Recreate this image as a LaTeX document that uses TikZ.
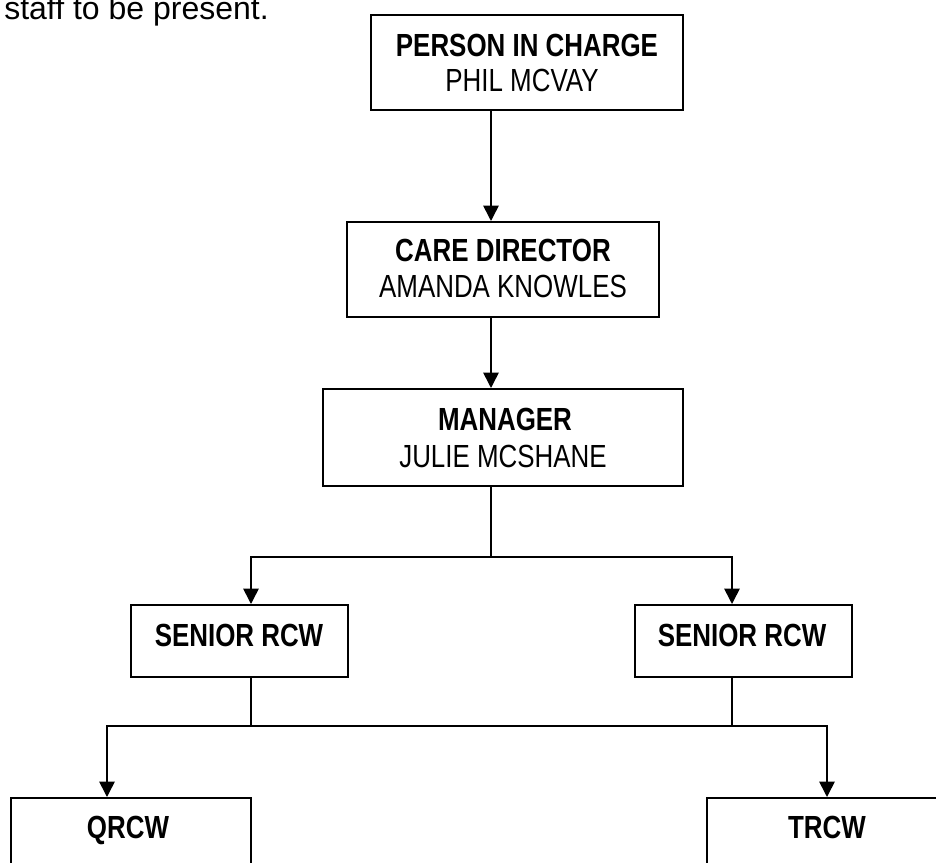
\documentclass[tikz,border=0pt]{standalone}
\usepackage{fontspec}
\setmainfont{Liberation Sans}
\newfontfamily\narrowfont[FakeStretch=0.81]{Liberation Sans}
\usetikzlibrary{arrows.meta}
\begin{document}
\begin{tikzpicture}[x=0.75pt,y=-0.75pt,
  box/.style={draw=black,line width=1.5pt,rectangle,inner sep=0pt},
  lbl/.style={anchor=base,inner sep=0pt,font=\narrowfont\fontsize{24pt}{28pt}\selectfont},
  conn/.style={line width=1.2pt},
  arr/.style={conn,-{Triangle[length=11.5pt,width=11.5pt]}}]
\clip (0,0) rectangle (936,863);
\fill[white] (0,0) rectangle (936,863);

% intro text
\node[anchor=base west,inner sep=0pt,font=\fontsize{24pt}{28pt}\selectfont] (intro) at (4,20) {staff to be present.};

% boxes
\node[box,minimum width=234pt,minimum height=71.25pt] (B1) at (527,62.5) {};
\node[box,minimum width=234pt,minimum height=71.25pt] (B2) at (503,269.5) {};
\node[box,minimum width=270pt,minimum height=72.75pt] (B3) at (503,437.5) {};
\node[box,minimum width=162.75pt,minimum height=54pt] (S1) at (239.5,641) {};
\node[box,minimum width=162.75pt,minimum height=54pt] (S2) at (743.5,641) {};
\node[box,minimum width=180pt,minimum height=54pt] (Q) at (131,834) {};
\node[box,minimum width=180pt,minimum height=54pt] (T) at (827,834) {};

% labels
\node[lbl] (B1a) at (527,57) {\bfseries PERSON IN CHARGE};
\node[lbl] (B1b) at (522,92) {PHIL MCVAY};
\node[lbl] (B2a) at (503,262) {\bfseries CARE DIRECTOR};
\node[lbl] (B2b) at (503,297) {AMANDA KNOWLES};
\node[lbl] (B3a) at (505,430) {\bfseries MANAGER};
\node[lbl] (B3b) at (503,467) {JULIE MCSHANE};
\node[lbl] (S1a) at (239,646) {\bfseries SENIOR RCW};
\node[lbl] (S2a) at (742,646) {\bfseries SENIOR RCW};
\node[lbl] (Qa) at (128,838) {\bfseries QRCW};
\node[lbl] (Ta) at (827,838) {\bfseries TRCW};

% connector columns and buses
\coordinate (colA) at (491,0);
\coordinate (colS1) at (251,0);
\coordinate (colS2) at (732,0);
\coordinate (colQ) at (107,0);
\coordinate (colT) at (827,0);
\coordinate (bus1) at (0,557);
\coordinate (bus2) at (0,726);

\draw[arr] (B1.south -| colA) -- (B2.north -| colA);
\draw[arr] (B2.south -| colA) -- (B3.north -| colA);
\draw[conn] (B3.south -| colA) -- (bus1 -| colA);
\draw[arr] (bus1 -| colA) -| (S1.north -| colS1);
\draw[arr] (bus1 -| colA) -| (S2.north -| colS2);
\draw[conn] (S1.south -| colS1) -- (bus2 -| colS1);
\draw[conn] (S2.south -| colS2) -- (bus2 -| colS2);
\draw[conn] (bus2 -| colS1) -- (bus2 -| colS2);
\draw[arr] (bus2 -| colS1) -| (Q.north -| colQ);
\draw[arr] (bus2 -| colS2) -| (T.north -| colT);
\end{tikzpicture}
\end{document}
